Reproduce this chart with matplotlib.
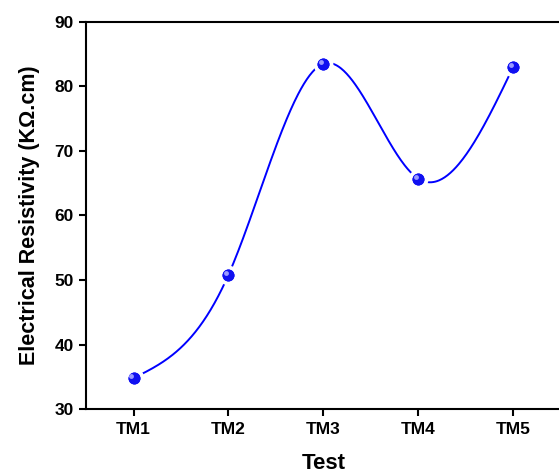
import numpy as np
import matplotlib
matplotlib.use("Agg")
import matplotlib.pyplot as plt
import matplotlib.transforms as mtrans

tests = ["TM1", "TM2", "TM3", "TM4", "TM5"]
resistivity = [34.8, 50.8, 83.5, 65.7, 83.0]

plt.rcParams["font.family"] = ["Liberation Sans", "DejaVu Sans"]
plt.rcParams["font.weight"] = "bold"


def natural_spline(x, y, n=400):
    x = np.asarray(x, float); y = np.asarray(y, float)
    m = len(x); h = np.diff(x)
    A = np.zeros((m, m)); b = np.zeros(m)
    A[0, 0] = A[-1, -1] = 1
    for i in range(1, m - 1):
        A[i, i - 1] = h[i - 1]; A[i, i] = 2 * (h[i - 1] + h[i]); A[i, i + 1] = h[i]
        b[i] = 3 * ((y[i + 1] - y[i]) / h[i] - (y[i] - y[i - 1]) / h[i - 1])
    c = np.linalg.solve(A, b)
    xs = np.linspace(x[0], x[-1], n)
    idx = np.clip(np.searchsorted(x, xs) - 1, 0, m - 2)
    dx = xs - x[idx]
    bb = (y[1:] - y[:-1]) / h - h * (2 * c[:-1] + c[1:]) / 3
    dd = (c[1:] - c[:-1]) / (3 * h)
    ys = y[idx] + bb[idx] * dx + c[idx] * dx ** 2 + dd[idx] * dx ** 3
    return xs, ys


x = np.arange(1, len(tests) + 1)
xs, ys = natural_spline(x, resistivity)

fig = plt.figure(figsize=(5.59, 4.74), dpi=100)
ax = fig.add_axes([0.154, 0.137, 0.849, 0.817])

ax.plot(xs, ys, color="#0000ff", lw=1.4, zorder=2)
ax.plot(x, resistivity, ls="none", marker="o", ms=11.5, mfc="#0000ff",
        mec="white", mew=2.8, zorder=3)
ax.plot(x, resistivity, ls="none", marker="o", ms=8.5, mfc="#1010f0",
        mec="none", zorder=4)
off = mtrans.offset_copy(ax.transData, fig=fig, x=-1.5, y=1.5, units="points")
ax.plot(x, resistivity, ls="none", marker="o", ms=3.5, mfc="#9a9aff",
        mec="none", zorder=5, transform=off)

ax.set_xlim(0.5, 5.5)
ax.set_ylim(30, 90)
ax.set_xticks(x)
ax.set_xticklabels(tests)
ax.set_yticks(np.arange(30, 91, 10))
ax.tick_params(direction="out", length=5, width=1.5, labelsize=12.5, pad=4)
for s in ax.spines.values():
    s.set_linewidth(1.5)
ax.set_xlabel("Test", fontsize=16, fontweight="bold", labelpad=12)
ax.set_ylabel("Electrical Resistivity (K\u03a9.cm)", fontsize=15.5,
              fontweight="bold", labelpad=10)

fig.savefig("out.png", dpi=100)
